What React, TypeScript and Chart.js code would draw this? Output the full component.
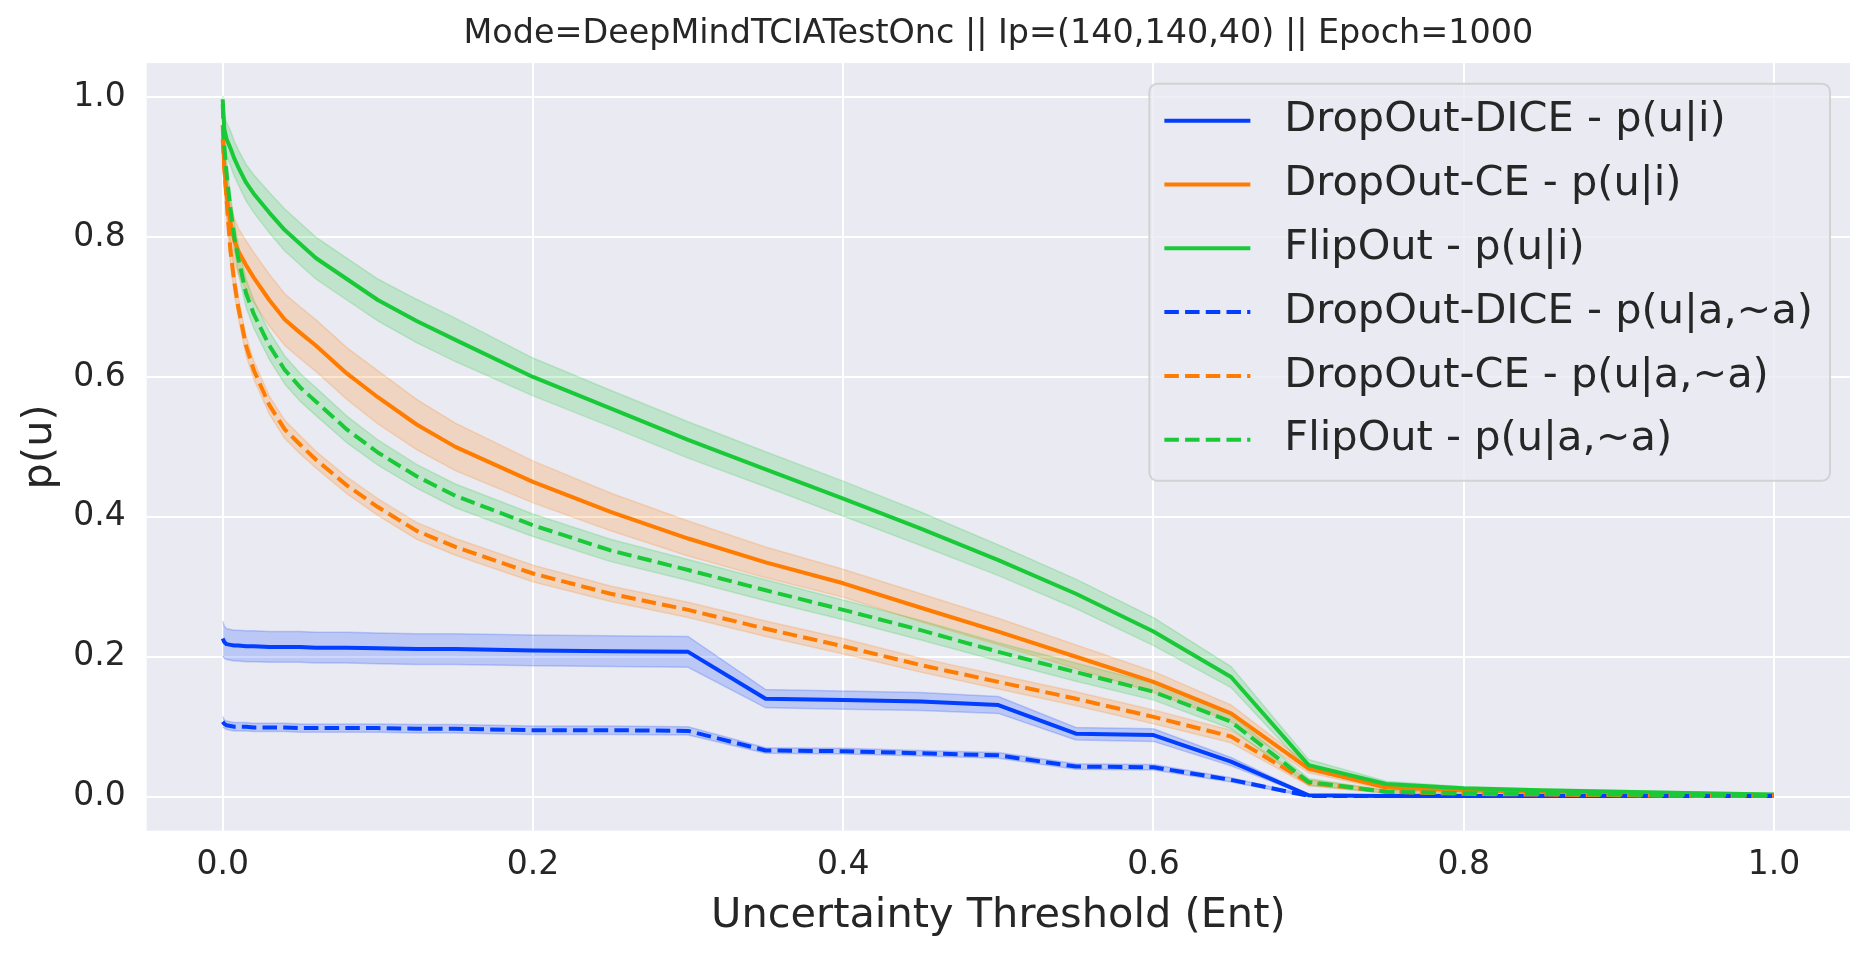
import { useEffect, useRef } from 'react';
import { Chart, registerables } from 'chart.js';

Chart.register(...registerables);

// uncertainty thresholds (x) shared by every curve
const thresholds = [
  0, 0.001, 0.0025, 0.005, 0.0075, 0.01, 0.015, 0.02, 0.03, 0.04, 0.05, 0.06, 0.08, 0.1, 0.125,
  0.15, 0.2, 0.25, 0.3, 0.35, 0.4, 0.45, 0.5, 0.55, 0.6, 0.65, 0.7, 0.75, 0.8, 0.85, 0.9, 0.95, 1.0,
];

// mean curves p(u|i)
const dropoutDiceUI = [
  0.226, 0.221, 0.218, 0.217, 0.216, 0.216, 0.215, 0.215, 0.214, 0.214, 0.214, 0.213, 0.213, 0.212,
  0.211, 0.211, 0.209, 0.208, 0.207, 0.14, 0.138, 0.136, 0.131, 0.09, 0.088, 0.05, 0.002, 0.001,
  0.001, 0.001, 0.001, 0.001, 0.001,
];
const dropoutCeUI = [
  0.96, 0.9, 0.86, 0.82, 0.795, 0.78, 0.76, 0.742, 0.71, 0.682, 0.663, 0.645, 0.605, 0.571, 0.532,
  0.5, 0.45, 0.407, 0.369, 0.335, 0.305, 0.27, 0.236, 0.2, 0.164, 0.119, 0.04, 0.013, 0.009, 0.007,
  0.005, 0.004, 0.002,
];
const flipoutUI = [
  0.997, 0.955, 0.94, 0.927, 0.912, 0.9, 0.878, 0.862, 0.835, 0.81, 0.79, 0.77, 0.74, 0.71, 0.68,
  0.653, 0.6, 0.555, 0.51, 0.468, 0.426, 0.383, 0.338, 0.29, 0.236, 0.171, 0.045, 0.018, 0.012,
  0.009, 0.007, 0.005, 0.003,
];

// mean curves p(u|a,~a)
const dropoutDiceUA = [
  0.107, 0.104, 0.102, 0.101, 0.1, 0.1, 0.1, 0.099, 0.099, 0.099, 0.098, 0.098, 0.098, 0.098, 0.097,
  0.097, 0.095, 0.095, 0.094, 0.066, 0.065, 0.062, 0.059, 0.043, 0.042, 0.024, 0.001, 0.001, 0.001,
  0.001, 0.001, 0.001, 0.001,
];
const dropoutCeUA = [
  0.94, 0.9, 0.852, 0.78, 0.735, 0.7, 0.645, 0.61, 0.56, 0.525, 0.503, 0.482, 0.445, 0.414, 0.38,
  0.357, 0.319, 0.29, 0.267, 0.24, 0.215, 0.188, 0.164, 0.14, 0.114, 0.086, 0.02, 0.007, 0.004,
  0.003, 0.002, 0.001, 0.001,
];
const flipoutUA = [
  0.99, 0.93, 0.89, 0.84, 0.8, 0.77, 0.72, 0.69, 0.645, 0.61, 0.585, 0.565, 0.525, 0.492, 0.458,
  0.43, 0.388, 0.352, 0.324, 0.295, 0.267, 0.238, 0.207, 0.178, 0.15, 0.107, 0.021, 0.007, 0.005,
  0.004, 0.003, 0.002, 0.001,
];

// half-width of the shaded band around each curve
const dropoutDiceUISpread = [
  0.025, 0.023, 0.022, 0.022, 0.022, 0.022, 0.022, 0.022, 0.022, 0.022, 0.022, 0.022, 0.022, 0.022,
  0.022, 0.022, 0.022, 0.022, 0.022, 0.013, 0.013, 0.013, 0.012, 0.009, 0.009, 0.006, 0.001, 0.001,
  0.001, 0.001, 0.001, 0.001, 0.001,
];
const dropoutCeUISpread = [
  0.01, 0.025, 0.03, 0.03, 0.032, 0.033, 0.035, 0.036, 0.037, 0.037, 0.037, 0.037, 0.037, 0.038,
  0.036, 0.034, 0.03, 0.027, 0.025, 0.022, 0.02, 0.02, 0.019, 0.017, 0.015, 0.012, 0.006, 0.003,
  0.002, 0.002, 0.002, 0.002, 0.002,
];
const flipoutUISpread = [
  0.005, 0.02, 0.024, 0.025, 0.025, 0.025, 0.026, 0.027, 0.029, 0.03, 0.03, 0.03, 0.03, 0.03, 0.031,
  0.031, 0.027, 0.026, 0.026, 0.025, 0.025, 0.024, 0.022, 0.021, 0.02, 0.015, 0.008, 0.004, 0.002,
  0.002, 0.002, 0.002, 0.002,
];
const dropoutDiceUASpread = [
  0.008, 0.006, 0.006, 0.006, 0.006, 0.006, 0.006, 0.006, 0.006, 0.006, 0.006, 0.006, 0.006, 0.006,
  0.006, 0.006, 0.006, 0.006, 0.006, 0.004, 0.004, 0.004, 0.004, 0.004, 0.004, 0.003, 0.001, 0.001,
  0.001, 0.001, 0.001, 0.001, 0.001,
];
const dropoutCeUASpread = [
  0.01, 0.02, 0.02, 0.018, 0.016, 0.015, 0.014, 0.013, 0.013, 0.013, 0.013, 0.012, 0.012, 0.012,
  0.012, 0.012, 0.012, 0.011, 0.011, 0.011, 0.011, 0.01, 0.01, 0.01, 0.01, 0.009, 0.004, 0.002,
  0.001, 0.001, 0.001, 0.001, 0.001,
];
const flipoutUASpread = [
  0.005, 0.02, 0.02, 0.02, 0.02, 0.02, 0.02, 0.02, 0.02, 0.02, 0.02, 0.02, 0.019, 0.018, 0.017,
  0.017, 0.016, 0.016, 0.015, 0.015, 0.014, 0.014, 0.013, 0.013, 0.012, 0.01, 0.005, 0.002, 0.002,
  0.001, 0.001, 0.001, 0.001,
];

const xTicks = [0, 0.2, 0.4, 0.6, 0.8, 1.0];
const yTicks = [0, 0.2, 0.4, 0.6, 0.8, 1.0];

const seriesLabels = [
  'DropOut-DICE - p(u|i)',
  'DropOut-CE - p(u|i)',
  'FlipOut - p(u|i)',
  'DropOut-DICE - p(u|a,~a)',
  'DropOut-CE - p(u|a,~a)',
  'FlipOut - p(u|a,~a)',
];

const seriesColors = ['#023eff', '#ff7c00', '#1ac938', '#023eff', '#ff7c00', '#1ac938'];
const seriesDashed = [false, false, false, true, true, true];

const FONT = "'DejaVu Sans', sans-serif";
const INK = '#262626';
const DASH = [14.5, 6.2];
const LINE_W = 4;
const LABEL_SIZE = 41.5;

function rgba(hex: string, a: number) {
  const n = parseInt(hex.slice(1), 16);
  return `rgba(${(n >> 16) & 255}, ${(n >> 8) & 255}, ${n & 255}, ${a})`;
}

// seaborn darkgrid face colour behind the grid
const plotBackground = {
  id: 'plotBackground',
  beforeDraw(chart: any) {
    const { ctx, chartArea: a } = chart;
    ctx.save();
    ctx.fillStyle = '#eaeaf2';
    ctx.fillRect(a.left, a.top, a.right - a.left, a.bottom - a.top);
    ctx.restore();
  },
};

// matplotlib-style legend box in the upper right of the plot
const boxLegend = {
  id: 'boxLegend',
  afterDraw(chart: any) {
    const { ctx, chartArea: a } = chart;
    const fs = LABEL_SIZE;
    ctx.save();
    ctx.font = `${fs}px ${FONT}`;
    const textW = Math.max(...seriesLabels.map((t) => ctx.measureText(t).width));
    const right = a.right - 20;
    const left = right - (15 + 86 + 34 + textW + 17);
    const top = a.top + 20.6;
    const step = 63.8;
    const firstRow = top + 37;
    const bottom = firstRow + step * (seriesLabels.length - 1) + 41;

    ctx.beginPath();
    ctx.roundRect(left, top, right - left, bottom - top, 8);
    ctx.fillStyle = 'rgba(234, 234, 242, 0.8)';
    ctx.fill();
    ctx.lineWidth = 2;
    ctx.strokeStyle = 'rgba(204, 204, 204, 0.8)';
    ctx.stroke();

    seriesLabels.forEach((label, i) => {
      const y = firstRow + step * i;
      ctx.beginPath();
      ctx.setLineDash(seriesDashed[i] ? DASH : []);
      ctx.lineWidth = LINE_W;
      ctx.strokeStyle = seriesColors[i];
      ctx.moveTo(left + 15, y);
      ctx.lineTo(left + 15 + 86, y);
      ctx.stroke();
      ctx.setLineDash([]);
      ctx.fillStyle = INK;
      ctx.textBaseline = 'middle';
      ctx.textAlign = 'left';
      ctx.fillText(label, left + 15 + 86 + 34, y);
    });
    ctx.restore();
  },
};

export default function App() {
  const canvasRef = useRef<HTMLCanvasElement>(null);

  useEffect(() => {
    if (!canvasRef.current) return;

    const means = [dropoutDiceUI, dropoutCeUI, flipoutUI, dropoutDiceUA, dropoutCeUA, flipoutUA];
    const spreads = [
      dropoutDiceUISpread,
      dropoutCeUISpread,
      flipoutUISpread,
      dropoutDiceUASpread,
      dropoutCeUASpread,
      flipoutUASpread,
    ];
    const toPoints = (ys: number[]) => ys.map((y, i) => ({ x: thresholds[i], y }));

    // each band = upper edge filled down to the lower edge that follows it
    const bands = means.flatMap((m, s) => {
      const edge = {
        borderColor: rgba(seriesColors[s], 0.2),
        borderWidth: 1.5,
        pointRadius: 0,
        order: 20 + s,
      };
      return [
        {
          ...edge,
          label: '',
          data: toPoints(m.map((v, i) => v + spreads[s][i])),
          fill: '+1',
          backgroundColor: rgba(seriesColors[s], 0.2),
        },
        {
          ...edge,
          label: '',
          data: toPoints(m.map((v, i) => v - spreads[s][i])),
          fill: false,
        },
      ];
    });

    const lines = means.map((m, s) => ({
      label: seriesLabels[s],
      data: toPoints(m),
      borderColor: seriesColors[s],
      borderWidth: LINE_W,
      borderDash: seriesDashed[s] ? DASH : [],
      borderJoinStyle: 'round' as const,
      pointRadius: 0,
      fill: false,
      order: 10 - s,
    }));

    const chart = new Chart(canvasRef.current, {
      type: 'line',
      data: { datasets: [...bands, ...lines] as any },
      options: {
        animation: false,
        responsive: true,
        maintainAspectRatio: false,
        events: [],
        layout: { padding: { left: 0, right: 20, top: 0, bottom: 0 } },
        plugins: {
          legend: { display: false },
          tooltip: { enabled: false },
          title: {
            display: true,
            text: 'Mode=DeepMindTCIATestOnc || Ip=(140,140,40) || Epoch=1000',
            fullSize: false,
            color: INK,
            font: { family: FONT, size: 33.4, weight: 'normal' },
            padding: { top: 14, bottom: 9 },
          },
        },
        scales: {
          x: {
            type: 'linear',
            min: -0.049,
            max: 1.049,
            afterFit: (s: any) => {
              s.height = 127.3;
            },
            afterBuildTicks: (s: any) => {
              s.ticks = xTicks.map((value) => ({ value }));
            },
            grid: { color: '#ffffff', lineWidth: 2, drawTicks: false },
            border: { display: false },
            ticks: {
              padding: 15,
              color: INK,
              font: { family: FONT, size: 33 },
              maxRotation: 0,
              autoSkip: false,
              callback: (v: any) => Number(v).toFixed(1),
            },
            title: {
              display: true,
              text: 'Uncertainty Threshold (Ent)',
              color: INK,
              font: { family: FONT, size: LABEL_SIZE },
              padding: { top: 0, bottom: 17 },
            },
          },
          y: {
            type: 'linear',
            min: -0.0487,
            max: 1.0487,
            afterFit: (s: any) => {
              s.width = 146.7;
            },
            afterBuildTicks: (s: any) => {
              s.ticks = yTicks.map((value) => ({ value }));
            },
            grid: { color: '#ffffff', lineWidth: 2, drawTicks: false },
            border: { display: false },
            ticks: {
              padding: 21,
              color: INK,
              font: { family: FONT, size: 33 },
              autoSkip: false,
              callback: (v: any) => Number(v).toFixed(1),
            },
            title: {
              display: true,
              text: 'p(u)',
              color: INK,
              font: { family: FONT, size: LABEL_SIZE },
              padding: { top: 15, bottom: 0 },
            },
          },
        },
      },
      plugins: [plotBackground, boxLegend],
    });

    return () => chart.destroy();
  }, []);

  return (
    <div
      style={{
        position: 'absolute',
        left: 0,
        top: 0,
        width: 1870,
        height: 958,
        background: '#ffffff',
      }}
    >
      <canvas ref={canvasRef}></canvas>
    </div>
  );
}
